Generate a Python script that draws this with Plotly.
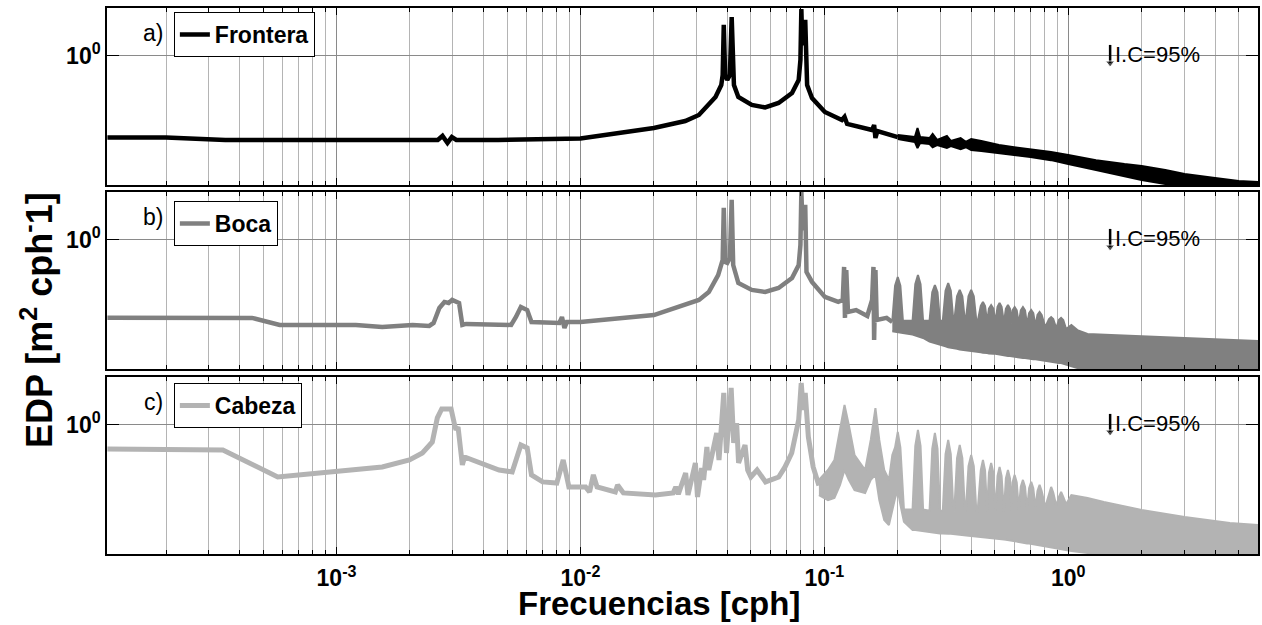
import plotly.graph_objects as go

# ---------------- data ----------------
# a) Frontera : line part
f_frontera = [1.15e-4, 2.0e-4, 3.5e-4, 1.0e-3, 1.8e-3, 2.6e-3, 2.72e-3, 2.85e-3, 2.97e-3, 3.1e-3,
              4.6e-3, 1.0e-2, 2.0e-2, 2.69e-2, 3.06e-2, 3.58e-2, 3.78e-2, 3.83e-2, 3.87e-2, 3.92e-2,
              4.0e-2, 4.1e-2, 4.17e-2, 4.23e-2, 4.26e-2, 4.44e-2, 5.04e-2, 5.72e-2, 6.49e-2, 7.37e-2,
              7.85e-2, 7.98e-2, 8.05e-2, 8.12e-2, 8.2e-2, 8.35e-2, 8.42e-2, 8.5e-2, 8.9e-2, 0.1005,
              0.118, 0.121, 0.124, 0.14, 0.157, 0.160, 0.162, 0.165, 0.185, 0.2]
v_frontera = [0.252, 0.252, 0.242, 0.242, 0.238, 0.242, 0.259, 0.230, 0.254, 0.242,
              0.242, 0.248, 0.296, 0.333, 0.369, 0.500, 0.612, 0.725, 1.69, 0.725,
              0.667, 0.725, 1.93, 0.667, 0.612, 0.500, 0.437, 0.419, 0.452, 0.535,
              0.667, 0.935, 2.21, 1.20, 1.31, 1.84, 0.789, 0.612, 0.492, 0.388,
              0.339, 0.357, 0.317, 0.301, 0.286, 0.311, 0.250, 0.281, 0.263, 0.254]
# a) Frontera : dense high-frequency band (upper / lower envelope)
f_frontera_band = [0.20, 0.235, 0.241, 0.247, 0.27, 0.278, 0.29, 0.318, 0.33, 0.362, 0.38, 0.40,
                   0.44, 0.48, 0.52, 0.60, 0.70, 0.85, 1.0, 1.3, 1.7, 2.0, 2.5, 3.0, 4.0, 5.0, 6.0]
hi_frontera = [0.263, 0.254, 0.296, 0.254, 0.250, 0.268, 0.242, 0.259, 0.238, 0.250, 0.234, 0.246,
               0.238, 0.230, 0.222, 0.214, 0.207, 0.197, 0.188, 0.172, 0.161, 0.156, 0.1455, 0.136,
               0.127, 0.121, 0.119]
lo_frontera = [0.246, 0.234, 0.211, 0.230, 0.226, 0.214, 0.222, 0.211, 0.218, 0.207, 0.214, 0.204,
               0.201, 0.197, 0.194, 0.188, 0.181, 0.172, 0.161, 0.1455, 0.1315, 0.123, 0.115, 0.107,
               0.104, 0.104, 0.104]

# b) Boca : line part
f_boca = [1.15e-4, 4.5e-4, 5.85e-4, 1.2e-3, 1.54e-3, 2.05e-3, 2.4e-3, 2.5e-3, 2.64e-3, 2.77e-3,
          2.88e-3, 2.98e-3, 3.18e-3, 3.28e-3, 3.4e-3, 5.2e-3, 5.44e-3, 5.7e-3, 6.05e-3, 6.3e-3,
          8.2e-3, 8.4e-3, 8.6e-3, 8.8e-3, 1.0e-2, 2.0e-2, 3.06e-2, 3.36e-2, 3.67e-2, 3.83e-2,
          3.87e-2, 3.92e-2, 4.0e-2, 4.1e-2, 4.17e-2, 4.23e-2, 4.44e-2, 5.04e-2, 5.72e-2, 6.49e-2,
          7.37e-2, 7.85e-2, 7.98e-2, 8.05e-2, 8.15e-2, 8.35e-2, 8.45e-2, 8.9e-2, 0.1005, 0.114,
          0.119, 0.1205, 0.1215, 0.123, 0.125, 0.135, 0.150, 0.157, 0.159, 0.160,
          0.162, 0.164, 0.18, 0.190]
v_boca = [0.269, 0.268, 0.238, 0.238, 0.230, 0.238, 0.234, 0.246, 0.317, 0.351,
          0.345, 0.363, 0.345, 0.238, 0.242, 0.238, 0.272, 0.322, 0.306, 0.250,
          0.246, 0.272, 0.226, 0.250, 0.250, 0.281, 0.363, 0.415, 0.553, 0.713,
          1.72, 0.689, 0.678, 0.738, 1.97, 0.655, 0.483, 0.430, 0.415, 0.444,
          0.526, 0.655, 0.919, 2.25, 1.18, 1.81, 0.582, 0.492, 0.382, 0.351,
          0.363, 0.634, 0.268, 0.602, 0.296, 0.306, 0.277, 0.363, 0.634, 0.1845,
          0.602, 0.259, 0.268, 0.250]
# b) Boca : band
f_boca_band = [0.190, 0.195, 0.200, 0.205, 0.210,
               0.230, 0.236, 0.242, 0.248, 0.254,
               0.270, 0.277, 0.284, 0.291, 0.298,
               0.306, 0.314, 0.322, 0.330, 0.338,
               0.341, 0.350, 0.359, 0.368, 0.377,
               0.380, 0.390, 0.400, 0.410, 0.420,
               0.425, 0.438, 0.447, 0.456, 0.465,
               0.473, 0.483, 0.493, 0.503,
               0.513, 0.523, 0.533, 0.545,
               0.555, 0.566, 0.577, 0.585,
               0.591, 0.603, 0.615, 0.627,
               0.639, 0.652, 0.665, 0.678,
               0.691, 0.705, 0.719, 0.734,
               0.748, 0.763, 0.778, 0.805,
               0.834, 0.851, 0.868, 0.893,
               0.916, 0.935, 0.954, 0.98,
               1.03, 1.09, 1.2, 1.5, 2.0, 3.0, 4.0, 6.0]
hi_boca = [0.255, 0.461, 0.535, 0.461, 0.255,
           0.255, 0.474, 0.553, 0.474, 0.255,
           0.255, 0.414, 0.467, 0.414, 0.255,
           0.255, 0.425, 0.483, 0.425, 0.255,
           0.255, 0.387, 0.430, 0.387, 0.255,
           0.255, 0.387, 0.430, 0.387, 0.255,
           0.250, 0.328, 0.351, 0.328, 0.250,
           0.314, 0.333, 0.314, 0.250,
           0.323, 0.345, 0.323, 0.246,
           0.313, 0.333, 0.313, 0.244,
           0.305, 0.322, 0.305, 0.242,
           0.304, 0.322, 0.304, 0.238,
           0.291, 0.306, 0.291, 0.234,
           0.282, 0.296, 0.282, 0.229,
           0.263, 0.272, 0.263, 0.225,
           0.259, 0.268, 0.259, 0.222,
           0.238, 0.218, 0.204, 0.201, 0.197, 0.191, 0.1875, 0.181]
lo_boca = [0.214, 0.212, 0.211, 0.209, 0.208,
           0.202, 0.199, 0.197, 0.194, 0.191,
           0.180, 0.177, 0.175, 0.173, 0.171,
           0.168, 0.166, 0.163, 0.162, 0.160,
           0.160, 0.159, 0.157, 0.156, 0.154,
           0.154, 0.153, 0.152, 0.152, 0.151,
           0.151, 0.150, 0.149, 0.148, 0.148,
           0.147, 0.146, 0.146, 0.146,
           0.145, 0.144, 0.144, 0.143,
           0.142, 0.141, 0.141, 0.140,
           0.140, 0.139, 0.138, 0.137,
           0.137, 0.136, 0.136, 0.135,
           0.135, 0.134, 0.133, 0.133,
           0.132, 0.1315, 0.131, 0.129,
           0.128, 0.127, 0.126, 0.126,
           0.125, 0.125, 0.124, 0.123,
           0.119, 0.115, 0.102, 0.102, 0.100, 0.100, 0.100, 0.100]

# c) Cabeza : line part
f_cabeza = [1.15e-4, 3.42e-4, 5.74e-4, 7.0e-4, 9.6e-4, 1.54e-3, 1.99e-3, 2.25e-3, 2.47e-3, 2.59e-3,
            2.7e-3, 2.95e-3, 3.05e-3, 3.09e-3, 3.15e-3, 3.28e-3, 3.35e-3, 4.64e-3, 5.25e-3, 5.45e-3,
            5.7e-3, 6.05e-3, 6.3e-3, 7.0e-3, 8.0e-3, 8.5e-3, 8.97e-3, 1.05e-2, 1.09e-2, 1.13e-2,
            1.17e-2, 1.39e-2, 1.42e-2, 1.5e-2, 2.03e-2, 2.4e-2, 2.46e-2, 2.52e-2, 2.7e-2, 2.76e-2,
            2.96e-2, 3.02e-2, 3.14e-2, 3.2e-2, 3.3e-2, 3.36e-2, 3.62e-2, 3.7e-2, 3.87e-2, 3.97e-2,
            4.15e-2, 4.25e-2, 4.37e-2, 4.45e-2, 4.73e-2, 4.85e-2, 5.0e-2, 5.3e-2, 5.74e-2, 6.5e-2,
            6.9e-2, 7.35e-2, 7.6e-2, 7.85e-2, 8.04e-2, 8.2e-2, 8.35e-2, 8.6e-2, 9.0e-2, 9.5e-2]
v_cabeza = [0.667, 0.655, 0.415, 0.430, 0.452, 0.492, 0.553, 0.623, 0.750, 1.126,
            1.31, 1.31, 1.00, 0.919, 0.967, 0.509, 0.582, 0.467, 0.452, 0.573,
            0.713, 0.678, 0.430, 0.382, 0.375, 0.553, 0.351, 0.351, 0.322, 0.430,
            0.351, 0.322, 0.363, 0.317, 0.306, 0.317, 0.351, 0.311, 0.444, 0.306,
            0.526, 0.296, 0.483, 0.395, 0.689, 0.467, 0.873, 0.553, 1.72, 0.623,
            1.87, 0.738, 1.03, 0.526, 0.713, 0.467, 0.415, 0.467, 0.382, 0.415,
            0.492, 0.623, 0.816, 1.09, 2.03, 1.29, 1.72, 0.816, 0.492, 0.360]
# c) Cabeza : band
f_cabeza_band = [0.095, 0.1035, 0.110, 0.116, 0.121, 0.126, 0.133, 0.147, 0.155, 0.162, 0.168, 0.176, 0.184,
                 0.190, 0.195, 0.200, 0.205, 0.212,
                 0.230, 0.236, 0.242, 0.248, 0.254,
                 0.270, 0.277, 0.284, 0.291, 0.298,
                 0.306, 0.314, 0.322, 0.330, 0.338,
                 0.341, 0.350, 0.359, 0.368, 0.377,
                 0.380, 0.390, 0.400, 0.410, 0.420,
                 0.425, 0.438, 0.447, 0.456, 0.465,
                 0.473, 0.483, 0.493, 0.503,
                 0.513, 0.523, 0.533, 0.545,
                 0.555, 0.566, 0.577, 0.585,
                 0.591, 0.603, 0.615, 0.627,
                 0.639, 0.652, 0.665, 0.678,
                 0.691, 0.705, 0.719, 0.734,
                 0.748, 0.763, 0.778, 0.805,
                 0.834, 0.851, 0.868, 0.893,
                 0.916, 0.935, 0.954, 0.98,
                 1.03, 1.2, 1.4, 2.0, 3.0, 4.6, 6.0]
hi_cabeza = [0.395, 0.467, 0.553, 0.919, 1.40, 1.00, 0.602, 0.467, 0.776, 1.33, 0.776, 0.467, 0.395,
             0.602, 0.684, 0.888, 0.684, 0.240,
             0.240, 0.702, 0.919, 0.702, 0.240,
             0.235, 0.671, 0.873, 0.671, 0.235,
             0.235, 0.611, 0.776, 0.611, 0.235,
             0.232, 0.570, 0.713, 0.570, 0.232,
             0.232, 0.498, 0.602, 0.498, 0.232,
             0.232, 0.465, 0.553, 0.465, 0.232,
             0.447, 0.526, 0.447, 0.232,
             0.423, 0.492, 0.423, 0.230,
             0.405, 0.467, 0.405, 0.230,
             0.379, 0.430, 0.379, 0.240,
             0.353, 0.395, 0.353, 0.240,
             0.343, 0.382, 0.343, 0.245,
             0.328, 0.363, 0.328, 0.250,
             0.319, 0.351, 0.319, 0.255,
             0.297, 0.322, 0.297, 0.262,
             0.306, 0.291, 0.272, 0.238, 0.211, 0.191, 0.1845]
lo_cabeza = [0.306, 0.281, 0.291, 0.363, 0.467, 0.395, 0.333, 0.317, 0.395, 0.430, 0.281, 0.201, 0.1845,
             0.240, 0.290, 0.333, 0.260, 0.195,
             0.1695, 0.1695, 0.1695, 0.168, 0.166,
             0.163, 0.162, 0.161, 0.161, 0.160,
             0.160, 0.160, 0.159, 0.159, 0.158,
             0.158, 0.157, 0.157, 0.156, 0.155,
             0.155, 0.154, 0.153, 0.152, 0.152,
             0.151, 0.150, 0.150, 0.149, 0.149,
             0.148, 0.148, 0.147, 0.147,
             0.146, 0.1455, 0.145, 0.1445,
             0.144, 0.143, 0.142, 0.142,
             0.141, 0.141, 0.140, 0.139,
             0.137, 0.136, 0.136, 0.135,
             0.135, 0.134, 0.133, 0.133,
             0.132, 0.1315, 0.131, 0.129,
             0.128, 0.127, 0.126, 0.125,
             0.124, 0.123, 0.122, 0.121,
             0.119, 0.115, 0.102, 0.0937, 0.0937, 0.0937, 0.0937]

# 95 % confidence interval bar
ic_x = 1.485
ic_top = 1.205
ic_bottom = 0.888
ic_label = "I.C=95%"

series_names = ["Frontera", "Boca", "Cabeza"]
panel_letters = ["a)", "b)", "c)"]
colors = ["#000000", "#808080", "#b3b3b3"]
widths = [4.5, 4.5, 5]

x_tickvals = [1e-3, 1e-2, 1e-1, 1]
x_ticktext = ["10<sup>-3</sup>", "10<sup>-2</sup>", "10<sup>-1</sup>", "10<sup>0</sup>"]
x_minor = [m * 10.0 ** e for e in range(-4, 1) for m in range(2, 10)]
y_tickvals = [1]
y_ticktext = ["10<sup>0</sup>"]

FONT = "Liberation Sans, Arial, sans-serif"

lines = [(f_frontera, v_frontera), (f_boca, v_boca), (f_cabeza, v_cabeza)]
bands = [(f_frontera_band, hi_frontera, lo_frontera),
         (f_boca_band, hi_boca, lo_boca),
         (f_cabeza_band, hi_cabeza, lo_cabeza)]

fig = go.Figure()
axis_ids = [("x", "y"), ("x2", "y2"), ("x3", "y3")]
legend_ids = ["legend", "legend2", "legend3"]

for i in range(3):
    xa, ya = axis_ids[i]
    fb, hi, lo = bands[i]
    fig.add_trace(go.Scatter(
        x=list(fb) + list(fb)[::-1], y=list(hi) + list(lo)[::-1],
        mode="lines", fill="toself", fillcolor=colors[i],
        line=dict(color=colors[i], width=2), showlegend=False, hoverinfo="skip",
        xaxis=xa, yaxis=ya))
    fl, vl = lines[i]
    fig.add_trace(go.Scatter(
        x=fl, y=vl, mode="lines", name=series_names[i],
        line=dict(color=colors[i], width=widths[i]),
        legend=legend_ids[i], xaxis=xa, yaxis=ya))
    fig.add_trace(go.Scatter(
        x=[ic_x, ic_x], y=[ic_top, ic_bottom], mode="lines+markers",
        line=dict(color="black", width=2.5),
        marker=dict(symbol=["line-ew", "triangle-down"], size=[0, 8], color="black"),
        showlegend=False, hoverinfo="skip", xaxis=xa, yaxis=ya))

domains = [[0.6758, 1.0], [0.3388, 0.6630], [0.0, 0.3242]]
layout = dict(
    width=1262, height=625,
    margin=dict(l=107, r=2, t=8, b=71),
    paper_bgcolor="white", plot_bgcolor="white",
    font=dict(family=FONT, color="black"),
    showlegend=True,
)

for i in range(3):
    xkey = "xaxis" if i == 0 else f"xaxis{i+1}"
    ykey = "yaxis" if i == 0 else f"yaxis{i+1}"
    xa, ya = axis_ids[i]
    layout[xkey] = dict(
        type="log", range=[-3.941, 0.778], domain=[0, 1], anchor=ya,
        matches="x3" if i < 2 else None,
        tickmode="array", tickvals=x_tickvals, ticktext=x_ticktext,
        showticklabels=(i == 2), ticks="inside", ticklen=7, tickcolor="black",
        showline=True, linecolor="black", linewidth=1.5, mirror="allticks",
        showgrid=True, gridcolor="#8a8a8a", gridwidth=1,
        tickfont=dict(family=FONT, size=23, weight="bold", color="black"),
        ticklabelstandoff=3,
        minor=dict(tickmode="array", tickvals=x_minor, ticks="inside", ticklen=4,
                   tickcolor="black", showgrid=True, gridcolor="#b4b4b4", gridwidth=1),
        zeroline=False,
    )
    layout[ykey] = dict(
        type="log", range=[-0.947, 0.352], domain=domains[i], anchor=xa,
        tickmode="array", tickvals=y_tickvals, ticktext=y_ticktext,
        ticks="inside", ticklen=12, tickcolor="black",
        showline=True, linecolor="black", linewidth=1.5, mirror="allticks",
        showgrid=True, gridcolor="#8a8a8a", gridwidth=1,
        tickfont=dict(family=FONT, size=23, weight="bold", color="black"),
        zeroline=False,
    )

legend_tops = [0.9927, 0.6465, 0.3132]
for i in range(3):
    layout[legend_ids[i]] = dict(
        x=0.0581, y=legend_tops[i], xanchor="left", yanchor="top",
        bordercolor="black", borderwidth=1, bgcolor="white",
        font=dict(family=FONT, size=23, weight="bold", color="black"),
        itemwidth=30, tracegroupgap=0,
    )

fig.update_layout(**layout)

annotations = []
for i in range(3):
    xa, ya = axis_ids[i]
    annotations.append(dict(text=panel_letters[i], xref=f"{xa} domain", yref=f"{ya} domain",
                            x=0.0503, y=0.86, xanchor="right", yanchor="middle",
                            showarrow=False, font=dict(family=FONT, size=23, color="black")))
    annotations.append(dict(text=ic_label, xref=f"{xa} domain", yref=f"{ya} domain",
                            x=0.8742, y=0.74, xanchor="left", yanchor="middle",
                            showarrow=False, font=dict(family=FONT, size=22, color="black")))
annotations.append(dict(text="EDP [m<sup>2</sup> cph<sup>-</sup>1]", xref="paper", yref="paper",
                        x=-0.0607, y=0.4286, xanchor="center", yanchor="middle", textangle=-90,
                        showarrow=False, font=dict(family=FONT, size=36, weight="bold", color="black")))
annotations.append(dict(text="Frecuencias [cph]", xref="paper", yref="paper",
                        x=0.4796, y=-0.0915, xanchor="center", yanchor="middle",
                        showarrow=False, font=dict(family=FONT, size=33, weight="bold", color="black")))
fig.update_layout(annotations=annotations)

fig.write_html("out.html")
